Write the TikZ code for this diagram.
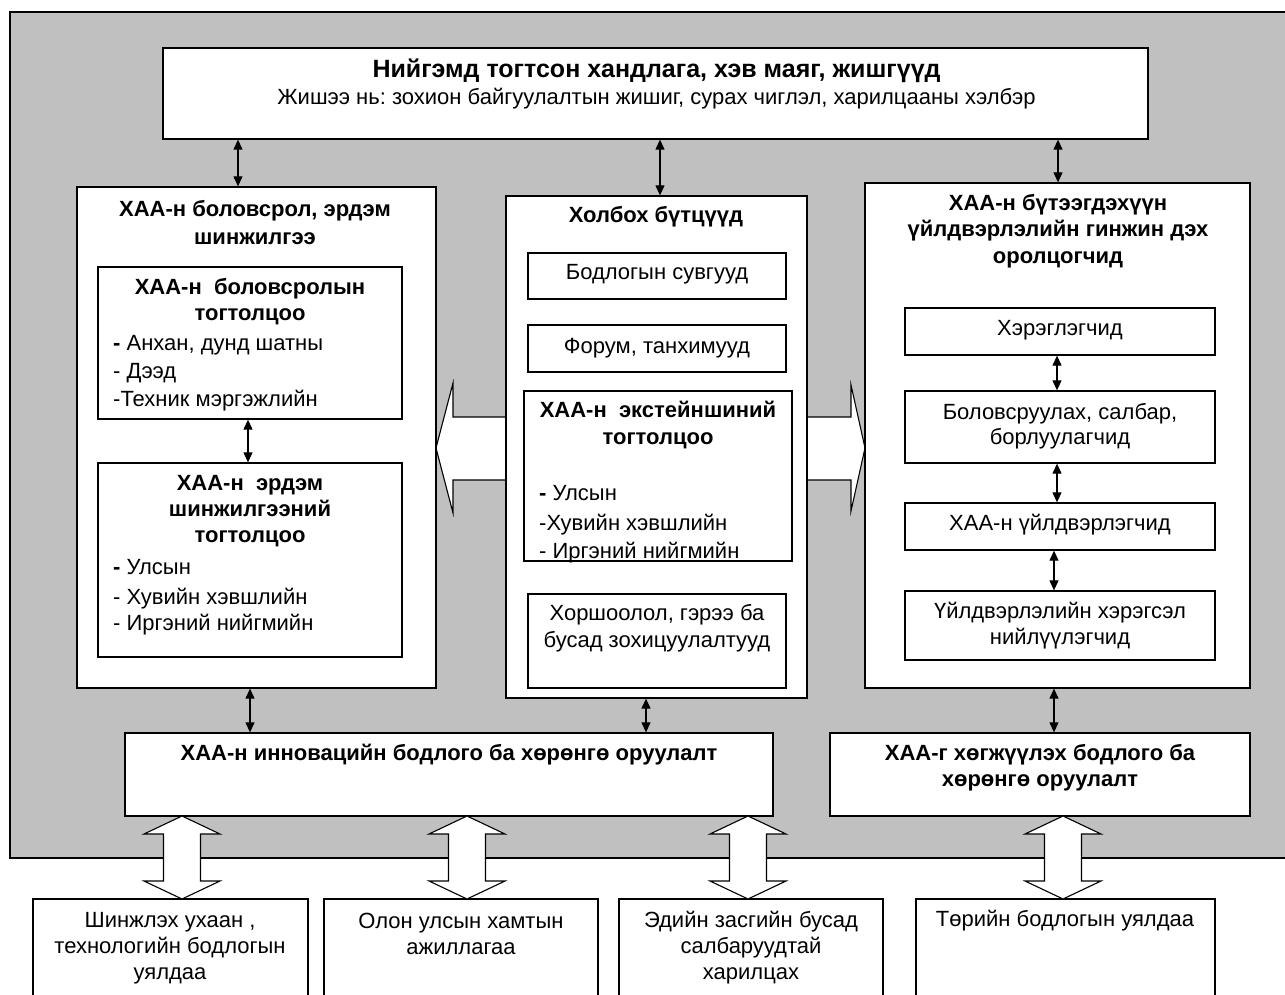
\documentclass[tikz,border=0pt]{standalone}
\usepackage{fontspec}
\setmainfont{Liberation Sans}
\usetikzlibrary{arrows.meta,calc}
\definecolor{panelgray}{HTML}{C0C0C0}
\frenchspacing
\begin{document}
\begin{tikzpicture}[x=1pt,y=-1pt,
  box/.style={draw, line width=1.3pt, fill=white, inner sep=0pt},
  txt/.style={font=\fontsize{22}{26}\selectfont, inner sep=0pt, align=center},
  btxt/.style={font=\fontsize{22}{27}\selectfont\bfseries, inner sep=0pt, align=center},
  ltxt/.style={font=\fontsize{22}{28}\selectfont, inner sep=0pt, align=left, anchor=west},
  dbl/.style={line width=1.1pt, {Triangle[length=10pt,width=9pt]}-{Triangle[length=10pt,width=9pt]}},
  hollow/.style={draw, line width=1.1pt, fill=white, line join=miter},
]
\useasboundingbox (0,0) rectangle (1285,995);
\fill[white] (0,0) rectangle (1285,995);
% gray panel
\draw[line width=1.3pt, fill=panelgray] (10,12) -- (1300,12) -- (1300,858) -- (10,858) -- cycle;

% big horizontal double arrow behind the centre box
\draw[hollow] (436,448) -- (453,383) -- (453,417) -- (851,417) -- (851,385) -- (865,448)
  -- (851,511) -- (851,480) -- (453,480) -- (453,513) -- cycle;

% boxes
\node[box, minimum width=985pt, minimum height=91pt] (top) at (655.5,93.5) {};
\node[box, minimum width=359pt, minimum height=501pt] (lb) at (256.5,437.5) {};
\node[box, minimum width=304pt, minimum height=152pt] (lb1) at (250,343) {};
\node[box, minimum width=304pt, minimum height=194pt] (lb2) at (250,560) {};
\node[box, minimum width=301pt, minimum height=502pt] (cb) at (656.5,447) {};
\node[box, minimum width=258pt, minimum height=46pt] (cb1) at (657,276) {};
\node[box, minimum width=258pt, minimum height=47pt] (cb2) at (657,348.5) {};
\node[box, minimum width=268pt, minimum height=170pt] (cb3) at (658,476) {};
\node[box, minimum width=258pt, minimum height=94pt] (cb4) at (657,641) {};
\node[box, minimum width=385pt, minimum height=505pt] (rb) at (1057.5,435.5) {};
\node[box, minimum width=310pt, minimum height=47pt] (rb1) at (1060,331.5) {};
\node[box, minimum width=310pt, minimum height=72pt] (rb2) at (1060,427) {};
\node[box, minimum width=310pt, minimum height=47pt] (rb3) at (1060,526.5) {};
\node[box, minimum width=310pt, minimum height=69pt] (rb4) at (1060,625.5) {};
\node[box, minimum width=648pt, minimum height=83pt] (inn) at (449,774.5) {};
\node[box, minimum width=420pt, minimum height=83pt] (pol) at (1040,774.5) {};
\node[box, minimum width=275pt, minimum height=111pt] (b1) at (170.5,954.5) {};
\node[box, minimum width=274pt, minimum height=111pt] (b2) at (461,954.5) {};
\node[box, minimum width=264pt, minimum height=111pt] (b3) at (751,954.5) {};
\node[box, minimum width=299pt, minimum height=111pt] (b4) at (1065.5,954.5) {};

% hollow vertical double arrows
\foreach \cx in {182, 467, 748, 1063}{
  \draw[hollow] (\cx,816) -- (\cx+38,834) -- (\cx+18.5,834) -- (\cx+18.5,881) -- (\cx+38,881)
    -- (\cx,899) -- (\cx-38,881) -- (\cx-18.5,881) -- (\cx-18.5,834) -- (\cx-38,834) -- cycle;
}

% small double arrows
\draw[dbl] (top.south -| 238,0) -- (lb.north -| 238,0);
\draw[dbl] (top.south -| 660,0) -- (cb.north -| 660,0);
\draw[dbl] (top.south -| 1058,0) -- (rb.north -| 1058,0);
\draw[dbl] (lb1.south -| 248,0) -- (lb2.north -| 248,0);
\draw[dbl] (rb1.south -| 1057,0) -- (rb2.north -| 1057,0);
\draw[dbl] (rb2.south -| 1057,0) -- (rb3.north -| 1057,0);
\draw[dbl] (rb3.south -| 1054,0) -- (rb4.north -| 1054,0);
\draw[dbl] (lb.south -| 250,0) -- (inn.north -| 250,0);
\draw[dbl] (cb.south -| 646,0) -- (inn.north -| 646,0);
\draw[dbl] (rb.south -| 1054,0) -- (pol.north -| 1054,0);

% texts
\node[btxt, font=\fontsize{25}{27}\selectfont\bfseries] (ttop) at (656.5,71) {Нийгэмд тогтсон хандлага, хэв маяг, жишгүүд};
\node[txt] (tsub) at (656.5,99) {Жишээ нь: зохион байгуулалтын жишиг, сурах чиглэл, харилцааны хэлбэр};

\node[btxt, font=\fontsize{22}{28}\selectfont\bfseries] (tlb) at (255,223) {ХАА-н боловсрол, эрдэм\\шинжилгээ};
\node[btxt, font=\fontsize{22}{26}\selectfont\bfseries] (tlb1) at (250,302) {ХАА-н~ боловсролын\\тогтолцоо};
\node[ltxt] (llb1) at (113,373) {\textbf{-} Анхан, дунд шатны\\- Дээд\\-Техник мэргэжлийн};
\node[btxt, font=\fontsize{22}{26}\selectfont\bfseries] (tlb2) at (250,511) {ХАА-н~ эрдэм\\шинжилгээний\\тогтолцоо};
\node[ltxt, font=\fontsize{22}{26}\selectfont] (llb2) at (113,597) {\textbf{-} Улсын\\[4pt]- Хувийн хэвшлийн\\- Иргэний нийгмийн};

\node[btxt] (tcb) at (656,217) {Холбох бүтцүүд};
\node[txt] (tcb1) at (657,274) {Бодлогын сувгууд};
\node[txt] (tcb2) at (657,348) {Форум, танхимууд};
\node[btxt, font=\fontsize{22}{27}\selectfont\bfseries] (tcb3) at (658,425) {ХАА-н~ экстейншиний\\тогтолцоо};
\node[ltxt, font=\fontsize{22}{28}\selectfont] (lcb3) at (539,524) {\textbf{-} Улсын\\[2pt]-Хувийн хэвшлийн\\- Иргэний нийгмийн};
\node[txt, font=\fontsize{22}{27}\selectfont] (tcb4) at (657,628) {Хоршоолол, гэрээ ба\\бусад зохицуулалтууд};

\node[btxt, font=\fontsize{22}{26.5}\selectfont\bfseries] (trb) at (1058,231) {ХАА-н бүтээгдэхүүн\\үйлдвэрлэлийн гинжин дэх\\оролцогчид};
\node[txt] (trb1) at (1060,330) {Хэрэглэгчид};
\node[txt, font=\fontsize{22}{25}\selectfont] (trb2) at (1060,426) {Боловсруулах, салбар,\\борлуулагчид};
\node[txt] (trb3) at (1060,525) {ХАА-н үйлдвэрлэгчид};
\node[txt] (trb4) at (1060,626) {Үйлдвэрлэлийн хэрэгсэл\\нийлүүлэгчид};

\node[btxt] (tinn) at (449,755) {ХАА-н инновацийн бодлого ба хөрөнгө оруулалт};
\node[btxt, font=\fontsize{22}{26}\selectfont\bfseries] (tpol) at (1040,768) {ХАА-г хөгжүүлэх бодлого ба\\хөрөнгө оруулалт};

\node[txt] (tb1) at (170,948) {Шинжлэх ухаан ,\\технологийн бодлогын\\уялдаа};
\node[txt] (tb2) at (461,934) {Олон улсын хамтын\\ажиллагаа};
\node[txt] (tb3) at (751,948) {Эдийн засгийн бусад\\салбаруудтай\\харилцах};
\node[txt] (tb4) at (1065,921) {Төрийн бодлогын уялдаа};
\end{tikzpicture}
\end{document}
